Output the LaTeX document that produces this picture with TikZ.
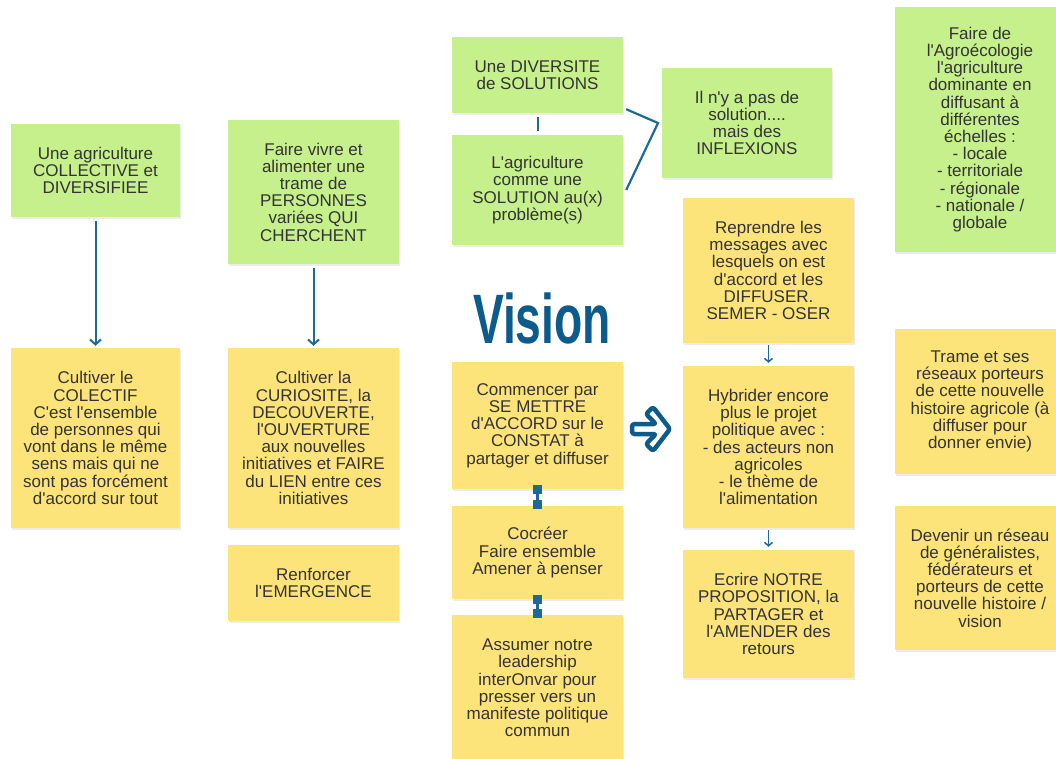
\documentclass[tikz,border=0pt]{standalone}
\usepackage{fontspec}
\setmainfont{Liberation Sans}[Ligatures=TeXOff]
\usetikzlibrary{arrows.meta,shadows,calc}
\definecolor{gfill}{HTML}{C5F08C}
\definecolor{yfill}{HTML}{FDE47A}
\definecolor{lblue}{HTML}{1D6A99}
\definecolor{vblue}{HTML}{0B5B8C}
\definecolor{txt}{HTML}{333333}
\tikzset{
  note/.style={rectangle, inner sep=0pt, align=center, text=txt,
    font=\fontsize{17}{17.2}\selectfont,
    drop shadow={opacity=0.15, shadow xshift=0.8pt, shadow yshift=-1.5pt}},
  gnote/.style={note, fill=gfill},
  ynote/.style={note, fill=yfill},
  conn/.style={draw=lblue, line width=2pt},
  darr/.style={conn, -{Straight Barb[length=5pt,width=11pt]}},
  sarr/.style={draw=lblue, line width=1.5pt, -{Straight Barb[length=3.5pt,width=8pt]}},
  ibeam/.style={draw=lblue, line width=2.5pt, {Square[length=9pt,width=9.5pt]}-{Square[length=9pt,width=9.5pt]}},
  bigarrow/.style={draw=vblue, line width=4.5pt, fill=white, line join=round, rounded corners=2.5pt}
}
\begin{document}
\begin{tikzpicture}[x=1pt,y=-1pt]
\useasboundingbox (0,0) rectangle (1056,758);
\clip (0,0) rectangle (1056,758);
\fill[white] (0,0) rectangle (1056,758);

% left columns
\node[gnote, minimum width=169, minimum height=93] (b1) at (95.5,170.5)
  {Une agriculture\\COLLECTIVE et\\DIVERSIFIEE};
\node[gnote, minimum width=171, minimum height=144] (b2) at (313.5,192)
  {Faire vivre et\\alimenter une\\trame de\\PERSONNES\\variées QUI\\CHERCHENT};
\node[ynote, minimum width=169, minimum height=180] (b3) at (95.5,438)
  {Cultiver le\\COLECTIF\\C'est l'ensemble\\de personnes qui\\vont dans le même\\sens mais qui ne\\sont pas forcément\\d'accord sur tout};
\node[ynote, minimum width=171, minimum height=180] (b4) at (313.5,438)
  {Cultiver la\\CURIOSITE, la\\DECOUVERTE,\\l'OUVERTURE\\aux nouvelles\\initiatives et FAIRE\\du LIEN entre ces\\initiatives};
\node[ynote, minimum width=171, minimum height=76] (b5) at (313.5,583)
  {Renforcer\\l'EMERGENCE};

% middle column
\node[gnote, minimum width=171, minimum height=76] (b6) at (537.5,75)
  {Une DIVERSITE\\de SOLUTIONS};
\node[gnote, minimum width=171, minimum height=110] (b7) at (537.5,190)
  {L'agriculture\\comme une\\SOLUTION au(x)\\problème(s)};
\node[gnote, minimum width=170, minimum height=110] (b8) at (747,123)
  {Il n'y a pas de\\solution....\\mais des\\INFLEXIONS};
\node[ynote, minimum width=171, minimum height=127] (b13) at (537.5,425.5)
  {Commencer par\\SE METTRE\\d'ACCORD sur le\\CONSTAT à\\partager et diffuser};
\node[ynote, minimum width=171, minimum height=93] (b14) at (537.5,552.5)
  {Cocréer\\Faire ensemble\\Amener à penser};
\node[ynote, minimum width=171, minimum height=146] (b15) at (537.5,688)
  {Assumer notre\\leadership\\interOnvar pour\\presser vers un\\manifeste politique\\commun};

\node[anchor=base, inner sep=0pt, text=vblue] (vision) at (542,343)
  {\fontsize{70}{70}\selectfont\bfseries\scalebox{0.66}[1]{Vision}};

% right-middle column
\node[ynote, minimum width=171, minimum height=145] (b10) at (768.5,270.5)
  {Reprendre les\\messages avec\\lesquels on est\\d'accord et les\\DIFFUSER.\\SEMER - OSER};
\node[ynote, minimum width=171, minimum height=162] (b11) at (768.5,447)
  {Hybrider encore\\plus le projet\\politique avec :\\- des acteurs non\\agricoles\\- le thème de\\l'alimentation};
\node[ynote, minimum width=171, minimum height=128] (b12) at (768.5,614)
  {Ecrire NOTRE\\PROPOSITION, la\\PARTAGER et\\l'AMENDER des\\retours};

% far right column
\node[gnote, minimum width=170, minimum height=245] (b9) at (980,129.5)
  {Faire de\\l'Agroécologie\\l'agriculture\\dominante en\\diffusant à\\différentes\\échelles :\\- locale\\- territoriale\\- régionale\\- nationale /\\globale};
\node[ynote, minimum width=170, minimum height=145] (b18) at (980,401.5)
  {Trame et ses\\réseaux porteurs\\de cette nouvelle\\histoire agricole (à\\diffuser pour\\donner envie)};
\node[ynote, minimum width=170, minimum height=144] (b19) at (980,578)
  {Devenir un réseau\\de généralistes,\\fédérateurs et\\porteurs de cette\\nouvelle histoire /\\vision};

% connectors
\draw[darr, shorten <=4pt, shorten >=2pt] (b1) -- (b3);
\draw[darr, shorten <=4pt, shorten >=2pt] (b2) -- (b4);
\draw[conn, shorten <=4pt, shorten >=4pt] (b6) -- (b7);
\coordinate (brk) at (658,123);
\draw[conn, line width=2.2pt] ($(b6.south east)+(3,-4)$) -- (brk) -- ($(b7.east)+(3,0)$);
\draw[sarr, shorten <=2pt, shorten >=3pt] (b10) -- (b11);
\draw[sarr, shorten <=2pt, shorten >=3pt] (b11) -- (b12);
\draw[ibeam, shorten <=-4.5pt, shorten >=-3.5pt] (b13) -- (b14);
\draw[ibeam, shorten <=-4.5pt, shorten >=-3.5pt] (b14) -- (b15);

% big hollow arrow
\draw[bigarrow] (632,424) -- (656,424) -- (646,414) -- (653,407) -- (670,429)
  -- (653,451) -- (646,444) -- (656,434) -- (632,434) -- cycle;
\end{tikzpicture}
\end{document}
